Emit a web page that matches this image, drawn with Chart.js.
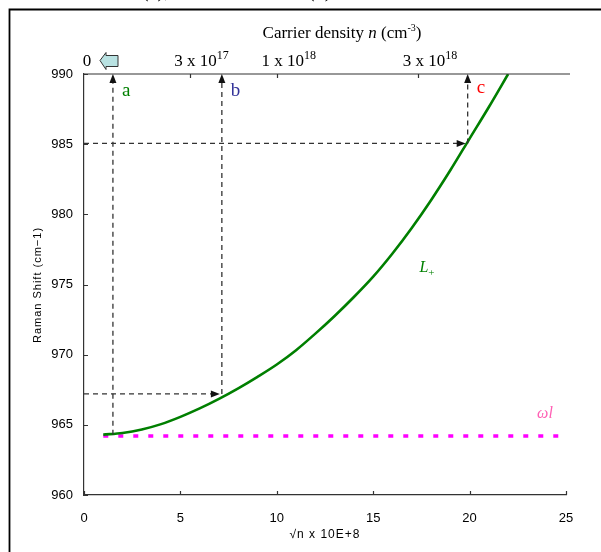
<!DOCTYPE html>
<html>
<head>
<meta charset="utf-8">
<script src="https://cdn.jsdelivr.net/npm/chart.js@4.4.1/dist/chart.umd.min.js"></script>
<style>
  html, body { margin: 0; padding: 0; background: #fff; }
  #wrap { width: 601px; height: 552px; }
</style>
</head>
<body>
<div id="wrap"><canvas id="ramanChart" width="601" height="552"></canvas></div>
<script>
// sqrt(n) x 1e-8 vs Raman shift of the L+ mode
const sqrtN = [1, 2, 3, 4, 5, 6, 7, 8, 9, 10, 11, 12, 13, 14, 15, 16, 17, 18, 19, 20, 21, 22];
const ramanL = [964.3, 964.42, 964.67, 965.05, 965.57, 966.17, 966.85, 967.6, 968.42, 969.3, 970.32,
                971.5, 972.76, 974.11, 975.56, 977.21, 979.03, 981.01, 983.14, 985.4, 987.65, 990.0];
// omega_l reference level
const omegaX = [1, 25];
const omegaY = [964.2, 964.2];

const xTicks = [0, 5, 10, 15, 20, 25];
const yTicks = [960, 965, 970, 975, 980, 985, 990];

// top axis: carrier density, placed at sqrt(n) / 1e8
const densityTicks = [3e17, 1e18, 3e18];
const densityBase = ['3 x 10', '1 x 10', '3 x 10'];
const densityExp = ['17', '18', '18'];

// dashed guide arrows a, b, c
const markerNames = ['a', 'b', 'c'];
const markerX = [1.5, 7.15, 19.9];
const markerY = [964.3, 967.2, 985.05];
const markerHoriz = [false, true, true];
const markerColors = ['#008000', '#333399', '#ff0000'];

const lLabel = { x: 17.4, y: 975.9 };
const omegaLabel = { x: 23.5, y: 965.5 };

const sansFont = '"Liberation Sans", Arial, sans-serif';
const serifFont = '"Liberation Serif", "DejaVu Serif", serif';

function arrowHead(ctx, tx, ty, dir) {
  // dir: 'up' or 'right'
  ctx.beginPath();
  if (dir === 'up') {
    ctx.moveTo(tx, ty); ctx.lineTo(tx - 3.5, ty + 9); ctx.lineTo(tx + 3.5, ty + 9);
  } else {
    ctx.moveTo(tx, ty); ctx.lineTo(tx - 9, ty - 3.5); ctx.lineTo(tx - 9, ty + 3.5);
  }
  ctx.closePath();
  ctx.fill();
}

const overlay = {
  id: 'overlay',
  afterDraw(chart) {
    const { ctx, chartArea: a, scales: { x, y } } = chart;
    ctx.save();

    // outer frame
    ctx.strokeStyle = '#000';
    ctx.lineWidth = 1.8;
    ctx.beginPath();
    ctx.moveTo(9.5, 552); ctx.lineTo(9.5, 9.5); ctx.lineTo(601, 9.5);
    ctx.stroke();

    // clipped header text above the frame (only the descenders show)
    ctx.fillStyle = '#000';
    ctx.font = '20px ' + serifFont;
    ctx.textAlign = 'left';
    ctx.textBaseline = 'alphabetic';
    ctx.fillText('(a),', 142, -3);
    ctx.fillText('(b)', 308, -3);

    // top axis line
    ctx.strokeStyle = '#333';
    ctx.lineWidth = 1.2;
    ctx.beginPath();
    ctx.moveTo(a.left, a.top); ctx.lineTo(a.right + 4, a.top);
    ctx.stroke();

    // inner ticks
    ctx.beginPath();
    xTicks.forEach(v => {
      const px = Math.round(x.getPixelForValue(v)) + 0.5;
      ctx.moveTo(px, a.bottom); ctx.lineTo(px, a.bottom - 4);
    });
    yTicks.forEach(v => {
      const py = Math.round(y.getPixelForValue(v)) + 0.5;
      ctx.moveTo(a.left, py); ctx.lineTo(a.left + 4, py);
    });
    densityTicks.forEach(n => {
      const px = Math.round(x.getPixelForValue(Math.sqrt(n) / 1e8)) + 0.5;
      ctx.moveTo(px, a.top); ctx.lineTo(px, a.top + 4);
    });
    ctx.stroke();

    // top axis labels
    ctx.fillStyle = '#000';
    ctx.textBaseline = 'alphabetic';
    densityTicks.forEach((n, i) => {
      const px = x.getPixelForValue(Math.sqrt(n) / 1e8);
      ctx.font = '17px ' + serifFont;
      const wb = ctx.measureText(densityBase[i]).width;
      ctx.font = '12px ' + serifFont;
      const we = ctx.measureText(densityExp[i]).width;
      const left = px + 12 - (wb + we) / 2;
      ctx.font = '17px ' + serifFont;
      ctx.textAlign = 'left';
      ctx.fillText(densityBase[i], left, 66);
      ctx.font = '12px ' + serifFont;
      ctx.fillText(densityExp[i], left + wb, 59);
    });
    const x0 = x.getPixelForValue(0);
    ctx.font = '17px ' + serifFont;
    ctx.textAlign = 'center';
    ctx.fillText('0', x0 + 3, 66);

    // small left-pointing block arrow next to the zero
    ctx.fillStyle = '#b9e2e2';
    ctx.strokeStyle = '#333';
    ctx.lineWidth = 1;
    ctx.beginPath();
    ctx.moveTo(x0 + 16, 60.5);
    ctx.lineTo(x0 + 22, 52.5);
    ctx.lineTo(x0 + 22, 55.5);
    ctx.lineTo(x0 + 34, 55.5);
    ctx.lineTo(x0 + 34, 66.5);
    ctx.lineTo(x0 + 22, 66.5);
    ctx.lineTo(x0 + 22, 69.5);
    ctx.closePath();
    ctx.fill();
    ctx.stroke();

    // top axis title
    ctx.fillStyle = '#000';
    ctx.textAlign = 'left';
    const parts = [
      ['Carrier density ', '17px ' + serifFont, 0],
      ['n', 'italic 17px ' + serifFont, 0],
      [' (cm', '17px ' + serifFont, 0],
      ['-3', '10px ' + serifFont, -7],
      [')', '17px ' + serifFont, 0]
    ];
    let total = 0;
    parts.forEach(p => { ctx.font = p[1]; total += ctx.measureText(p[0]).width; });
    let cx = 342 - total / 2;
    parts.forEach(p => {
      ctx.font = p[1];
      ctx.fillText(p[0], cx, 38 + p[2]);
      cx += ctx.measureText(p[0]).width;
    });

    // dashed guide arrows
    ctx.strokeStyle = '#333';
    ctx.fillStyle = '#111';
    ctx.lineWidth = 1.3;
    markerNames.forEach((name, i) => {
      const px = x.getPixelForValue(markerX[i]);
      const py = y.getPixelForValue(markerY[i]);
      ctx.setLineDash([5, 4]);
      ctx.beginPath();
      ctx.moveTo(px, py); ctx.lineTo(px, a.top + 8);
      if (markerHoriz[i]) {
        ctx.moveTo(a.left, py); ctx.lineTo(px - 10, py);
      }
      ctx.stroke();
      ctx.setLineDash([]);
      arrowHead(ctx, px, a.top, 'up');
      if (markerHoriz[i]) arrowHead(ctx, px - 2, py, 'right');
    });
    ctx.font = '19px ' + serifFont;
    ctx.textAlign = 'left';
    ctx.textBaseline = 'middle';
    markerNames.forEach((name, i) => {
      const px = x.getPixelForValue(markerX[i]);
      ctx.fillStyle = markerColors[i];
      ctx.fillText(name, px + 9, a.top + (i === 2 ? 14 : 17));
    });

    // curve labels
    ctx.fillStyle = '#008000';
    ctx.textBaseline = 'alphabetic';
    const lx = x.getPixelForValue(lLabel.x), ly = y.getPixelForValue(lLabel.y);
    ctx.font = 'italic 16px ' + serifFont;
    ctx.fillText('L', lx, ly);
    const lw = ctx.measureText('L').width;
    ctx.font = '11px ' + serifFont;
    ctx.fillText('+', lx + lw, ly + 4);

    ctx.fillStyle = '#ff5fb4';
    ctx.font = 'italic 16px ' + serifFont;
    ctx.fillText('\u03C9l', x.getPixelForValue(omegaLabel.x), y.getPixelForValue(omegaLabel.y));

    // axis titles
    ctx.fillStyle = '#000';
    ctx.font = '12px ' + sansFont;
    ctx.letterSpacing = '1px';
    ctx.textAlign = 'center';
    ctx.textBaseline = 'middle';
    ctx.fillText('\u221An x 10E+8', 325, 535);
    ctx.font = '11px ' + sansFont;
    ctx.translate(38, 285);
    ctx.rotate(-Math.PI / 2);
    ctx.fillText('Raman Shift (cm\u22121)', 0, 0);

    ctx.restore();
  }
};

new Chart(document.getElementById('ramanChart'), {
  type: 'line',
  data: {
    datasets: [
      {
        label: 'L+',
        data: sqrtN.map((v, i) => ({ x: v, y: ramanL[i] })),
        borderColor: '#007f00',
        borderWidth: 2.6,
        pointRadius: 0,
        cubicInterpolationMode: 'monotone',
        fill: false
      },
      {
        label: 'omega l',
        data: omegaX.map((v, i) => ({ x: v, y: omegaY[i] })),
        borderColor: '#ff00ff',
        borderWidth: 3.5,
        borderDash: [5, 10],
        pointRadius: 0,
        fill: false
      }
    ]
  },
  options: {
    responsive: false,
    animation: false,
    layout: { padding: { left: 0, top: 74, right: 35, bottom: 0 } },
    plugins: { legend: { display: false }, tooltip: { enabled: false } },
    scales: {
      x: {
        type: 'linear',
        min: 0, max: 25,
        afterBuildTicks: s => { s.ticks = xTicks.map(v => ({ value: v })); },
        afterFit: s => { s.height = 57; },
        grid: { display: false, drawTicks: false },
        border: { display: true, color: '#333', width: 1.2 },
        ticks: { color: '#000', padding: 16, font: { family: sansFont, size: 13 } }
      },
      y: {
        type: 'linear',
        min: 960, max: 990,
        afterBuildTicks: s => { s.ticks = yTicks.map(v => ({ value: v })); },
        afterFit: s => { s.width = 84; },
        grid: { display: false, drawTicks: false },
        border: { display: true, color: '#333', width: 1.2 },
        ticks: { color: '#000', padding: 11, font: { family: sansFont, size: 13 } }
      }
    }
  },
  plugins: [overlay]
});
</script>
</body>
</html>
